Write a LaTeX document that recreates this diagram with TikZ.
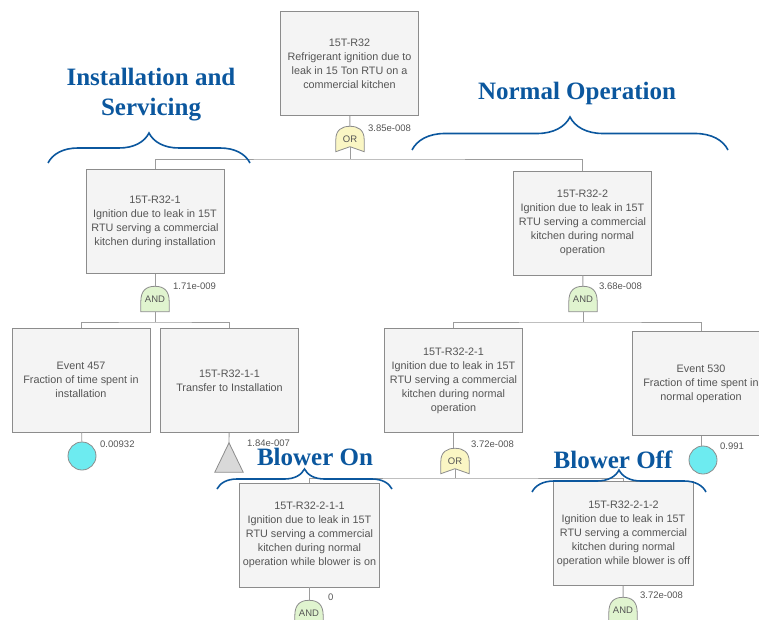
\documentclass[tikz,border=0pt]{standalone}
\usepackage{fontspec}
\setmainfont{Liberation Sans}
\newfontfamily\notefont{Liberation Serif}
\usetikzlibrary{decorations.pathreplacing,backgrounds}

\definecolor{boxfill}{HTML}{F4F4F4}
\definecolor{boxline}{HTML}{8C8C8C}
\definecolor{wirecol}{HTML}{9C9C9C}
\definecolor{boxtext}{HTML}{555555}
\definecolor{notecol}{HTML}{0B579E}
\definecolor{orfill}{HTML}{FAF6C4}
\definecolor{andfill}{HTML}{E0F4CF}
\definecolor{basicfill}{HTML}{6DEBF0}
\definecolor{transfill}{HTML}{D9D9D9}

\tikzset{
  event/.style={draw=boxline, line width=0.8pt, fill=boxfill, minimum width=138pt,
    minimum height=104pt, align=center, text=boxtext, font=\fontsize{10.8}{14}\selectfont},
  gate/.style={minimum width=28pt, minimum height=25pt, inner sep=0pt, text=boxtext,
    font=\fontsize{9.5}{10}\selectfont},
  prob/.style={anchor=west, inner sep=0pt, text=boxtext, font=\fontsize{9.5}{10}\selectfont},
  basic/.style={circle, draw=boxline, line width=0.8pt, fill=basicfill, minimum size=28pt, inner sep=0pt},
  transfer/.style={minimum width=28pt, minimum height=29pt, inner sep=0pt},
  wire/.style={draw=wirecol, line width=0.9pt},
  note/.style={text=notecol, align=center, font=\notefont\bfseries\fontsize{25}{30}\selectfont},
  curly/.style={draw=notecol, line width=1.6pt, decorate, decoration={brace, amplitude=#1}},
}

% gate outlines, drawn behind the gate labels
\newcommand{\andshape}[1]{%
  \begin{pgfonlayer}{background}
  \draw[draw=boxline, fill=andfill, line width=0.8pt]
    (#1.south west) -- ([yshift=10pt]#1.south west)
    .. controls ([yshift=21pt]#1.south west) and ([xshift=-9pt]#1.north) .. (#1.north)
    .. controls ([xshift=9pt]#1.north) and ([yshift=21pt]#1.south east) .. ([yshift=10pt]#1.south east)
    -- (#1.south east) -- cycle;
  \end{pgfonlayer}}
\newcommand{\orshape}[1]{%
  \begin{pgfonlayer}{background}
  \draw[draw=boxline, fill=orfill, line width=0.8pt]
    (#1.south west) -- ([yshift=12pt]#1.south west)
    .. controls ([yshift=22pt]#1.south west) and ([xshift=-8pt]#1.north) .. (#1.north)
    .. controls ([xshift=8pt]#1.north) and ([yshift=22pt]#1.south east) .. ([yshift=12pt]#1.south east)
    -- (#1.south east)
    .. controls ([xshift=-7pt,yshift=3pt]#1.south east) .. ([yshift=5pt]#1.south)
    .. controls ([xshift=7pt,yshift=3pt]#1.south west) .. (#1.south west) -- cycle;
  \end{pgfonlayer}}

\begin{document}
\begin{tikzpicture}[x=1pt,y=-1pt]
    \useasboundingbox (0,0) rectangle (759,620);
    \clip (0,0) rectangle (759,620);

    % top event
    \node[event] (top) at (349.5,63.5) {15T-R32\\Refrigerant ignition due to\\leak in 15 Ton RTU on a\\commercial kitchen};
    \node[gate] (g0) at (350,139) {OR};
    \node[prob] (p0) at (368,128) {3.85e-008};
    \coordinate (bus0) at (350,159);

    % installation branch
    \node[event] (inst) at (155,221.5) {15T-R32-1\\Ignition due to leak in 15T\\RTU serving a commercial\\kitchen during installation};
    \node[gate] (g1) at (155,299) {AND};
    \node[prob] (p1) at (173,286) {1.71e-009};
    \coordinate (bus1) at (155,322);
    \node[event] (ev457) at (81,380) {Event 457\\Fraction of time spent in\\installation};
    \node[basic] (c457) at (82,456) {};
    \node[prob] (p457) at (100,444) {0.00932};
    \node[event] (xfer) at (229.5,380.5) {15T-R32-1-1\\Transfer to Installation};
    \node[transfer] (t1) at (229,457.5) {};
    \node[prob] (pt1) at (247,443) {1.84e-007};

    % normal operation branch
    \node[event] (norm) at (582.5,223) {15T-R32-2\\Ignition due to leak in 15T\\RTU serving a commercial\\kitchen during normal\\operation};
    \node[gate] (g2) at (583,299) {AND};
    \node[prob] (p2) at (599,286) {3.68e-008};
    \coordinate (bus2) at (583,322);
    \node[event] (run) at (453.5,380.5) {15T-R32-2-1\\Ignition due to leak in 15T\\RTU serving a commercial\\kitchen during normal\\operation};
    \node[gate] (g3) at (455,461) {OR};
    \node[prob] (p3) at (471,444) {3.72e-008};
    \coordinate (bus3) at (455,478);
    \node[event] (ev530) at (701,383.5) {Event 530\\Fraction of time spent in\\normal operation};
    \node[basic] (c530) at (703,460) {};
    \node[prob] (p530) at (720,446) {0.991};

    % blower on / off
    \node[event] (bon) at (309.5,535) {15T-R32-2-1-1\\Ignition due to leak in 15T\\RTU serving a commercial\\kitchen during normal\\operation while blower is on};
    \node[gate] (g4) at (309,613) {AND};
    \node[prob] (p4) at (328,597) {0};
    \node[event] (boff) at (623.5,533.5) {15T-R32-2-1-2\\Ignition due to leak in 15T\\RTU serving a commercial\\kitchen during normal\\operation while blower is off};
    \node[gate] (g5) at (623,610) {AND};
    \node[prob] (p5) at (640,595) {3.72e-008};

    \orshape{g0} \andshape{g1} \andshape{g2} \orshape{g3} \andshape{g4} \andshape{g5}
    \draw[draw=boxline, fill=transfill, line width=0.8pt] (t1.north) -- (t1.south east) -- (t1.south west) -- cycle;

    % connectors
    \draw[wire] (top) -- (g0);
    \draw[wire] ([yshift=5pt]g0.south) -- (bus0);
    \draw[wire] (inst.north) |- (bus0) -| (norm.north);
    \draw[wire] (inst) -- (g1);
    \draw[wire] (g1) -- (bus1);
    \draw[wire] (ev457.north) |- (bus1) -| (xfer.north);
    \draw[wire] (ev457) -- (c457);
    \draw[wire] (xfer) -- (t1.north);
    \draw[wire] (norm) -- (g2);
    \draw[wire] (g2) -- (bus2);
    \draw[wire] (run.north) |- (bus2) -| (ev530.north);
    \draw[wire] (ev530.south) -- (ev530.south |- c530.north);
    \draw[wire] (run.south) -- (run.south |- g3.north);
    \draw[wire] ([yshift=5pt]g3.south) -- (bus3);
    \draw[wire] (bon.north) |- (bus3) -| (boff.north);
    \draw[wire] (bon.south) -- (bon.south |- g4.north);
    \draw[wire] (boff) -- (g5);

    % annotations
    \draw[curly=30pt] (48,163) -- (250,163);
    \node[note] (lab1) at (151,95) {Installation and\\Servicing};
    \draw[curly=33pt] (412,150) -- (728,150);
    \node[note] (lab2) at (577,93) {Normal Operation};
    \draw[curly=20pt] (217,489) -- (392,489);
    \node[note] (lab3) at (315,457) {Blower On};
    \draw[curly=22pt] (532,492) -- (706,492);
    \node[note] (lab4) at (613,460) {Blower Off};
\end{tikzpicture}
\end{document}
